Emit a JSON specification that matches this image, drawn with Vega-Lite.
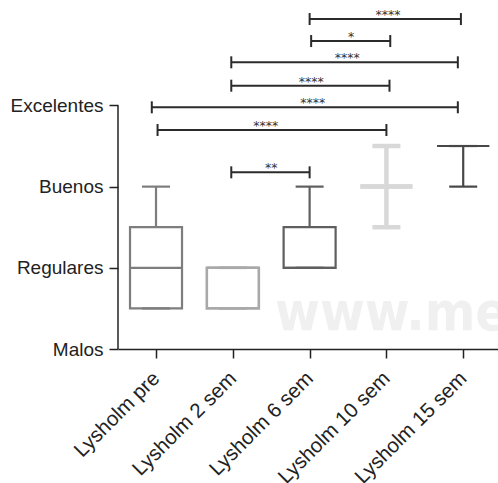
{
  "$schema": "https://vega.github.io/schema/vega-lite/v6.json",
  "autosize": "none",
  "width": 380,
  "height": 341,
  "padding": {"left": 118, "top": 8, "right": 0, "bottom": 134},
  "background": "white",
  "config": {
    "view": {"stroke": null},
    "axis": {
      "grid": false,
      "title": null,
      "domainColor": "#222222",
      "domainWidth": 1.5,
      "tickColor": "#222222",
      "tickWidth": 1.5,
      "tickSize": 9,
      "labelFont": "Liberation Sans",
      "labelFontSize": 19,
      "labelColor": "#222222"
    }
  },
  "datasets": {
    "boxes": [
      {"g": 1, "min": 0.5, "q1": 0.5, "med": 1, "q3": 1.5, "max": 2},
      {"g": 2, "min": 0.5, "q1": 0.5, "med": 1, "q3": 1, "max": 1},
      {"g": 3, "min": 1, "q1": 1, "med": 1, "q3": 1.5, "max": 2},
      {"g": 4, "min": 1.5, "q1": 2, "med": 2, "q3": 2, "max": 2.5},
      {"g": 5, "min": 2, "q1": 2.5, "med": 2.5, "q3": 2.5, "max": 2.5}
    ],
    "brackets": [
      {"a": 3.0, "b": 4.97, "y": 4.064, "mid": 4.02, "s": "****"},
      {"a": 3.02, "b": 4.05, "y": 3.793, "mid": 3.54, "s": "*"},
      {"a": 1.98, "b": 4.93, "y": 3.531, "mid": 3.49, "s": "****"},
      {"a": 1.98, "b": 4.04, "y": 3.243, "mid": 3.02, "s": "****"},
      {"a": 0.945, "b": 4.93, "y": 2.977, "mid": 3.04, "s": "****"},
      {"a": 1.02, "b": 4.0, "y": 2.697, "mid": 2.43, "s": "****"},
      {"a": 1.98, "b": 3.0, "y": 2.176, "mid": 2.5, "s": "**"}
    ]
  },
  "layer": [
    {
      "data": {"values": [{}]},
      "mark": {"type": "text", "font": "Liberation Sans Narrow, DejaVu Sans Condensed, Liberation Sans, sans-serif", "fontWeight": "bold", "fontSize": 54, "color": "#f0f0f0", "align": "left", "baseline": "alphabetic"},
      "encoding": {
        "x": {
          "datum": 2.55, "type": "quantitative",
          "scale": {"domain": [0.505, 5.453], "nice": false, "zero": false, "padding": 0},
          "axis": {
            "values": [1, 2, 3, 4, 5],
            "labelAngle": -45,
            "labelAlign": "right",
            "labelBaseline": "middle",
            "labelPadding": 17,
            "labelFontSize": 20.5,
            "labelOverlap": false,
            "labelBound": false,
            "labelFlush": false,
            "labelExpr": "['Lysholm pre', 'Lysholm 2 sem', 'Lysholm 6 sem', 'Lysholm 10 sem', 'Lysholm 15 sem'][datum.value - 1]"
          }
        },
        "y": {
          "datum": 0.23, "type": "quantitative",
          "scale": {"domain": [0, 4.2], "nice": false, "zero": false, "padding": 0},
          "axis": {
            "values": [0, 1, 2, 3],
            "domain": false,
            "labelPadding": 6,
            "labelOverlap": false,
            "labelExpr": "['Malos', 'Regulares', 'Buenos', 'Excelentes'][datum.value]"
          }
        },
        "text": {"value": "www.medigraphic.org.mx"}
      }
    },
    {
      "data": {"name": "boxes"},
      "mark": {"type": "rule"},
      "encoding": {
        "x": {"field": "g", "type": "quantitative"},
        "y": {"field": "q3", "type": "quantitative"},
        "y2": {"field": "max"},
        "color": {"field": "g", "type": "nominal", "legend": null,
          "scale": {"domain": [1, 2, 3, 4, 5], "range": ["#7d7d7d", "#a9a9a9", "#5f5f5f", "#d8d8d8", "#474747"]}},
        "strokeWidth": {"condition": [{"test": "datum.g == 4", "value": 4.5}, {"test": "datum.g == 2", "value": 2.6}], "value": 2.2}
      }
    },
    {
      "data": {"name": "boxes"},
      "mark": {"type": "rule"},
      "encoding": {
        "x": {"field": "g", "type": "quantitative"},
        "y": {"field": "min", "type": "quantitative"},
        "y2": {"field": "q1"},
        "color": {"field": "g", "type": "nominal", "legend": null},
        "strokeWidth": {"condition": [{"test": "datum.g == 4", "value": 4.5}, {"test": "datum.g == 2", "value": 2.6}], "value": 2.2}
      }
    },
    {
      "data": {"name": "boxes"},
      "mark": {"type": "rule", "xOffset": -14, "x2Offset": 14},
      "encoding": {
        "x": {"field": "g", "type": "quantitative"},
        "x2": {"field": "g"},
        "y": {"field": "max", "type": "quantitative"},
        "color": {"field": "g", "type": "nominal", "legend": null},
        "strokeWidth": {"condition": [{"test": "datum.g == 4", "value": 4.5}, {"test": "datum.g == 2", "value": 2.6}], "value": 2.2}
      }
    },
    {
      "data": {"name": "boxes"},
      "mark": {"type": "rule", "xOffset": -14, "x2Offset": 14},
      "encoding": {
        "x": {"field": "g", "type": "quantitative"},
        "x2": {"field": "g"},
        "y": {"field": "min", "type": "quantitative"},
        "color": {"field": "g", "type": "nominal", "legend": null},
        "strokeWidth": {"condition": [{"test": "datum.g == 4", "value": 4.5}, {"test": "datum.g == 2", "value": 2.6}], "value": 2.2}
      }
    },
    {
      "data": {"name": "boxes"},
      "mark": {"type": "bar", "size": 52, "filled": false, "orient": "vertical"},
      "encoding": {
        "x": {"field": "g", "type": "quantitative"},
        "y": {"field": "q1", "type": "quantitative"},
        "y2": {"field": "q3"},
        "stroke": {"field": "g", "type": "nominal", "legend": null,
          "scale": {"domain": [1, 2, 3, 4, 5], "range": ["#7d7d7d", "#a9a9a9", "#5f5f5f", "#d8d8d8", "#474747"]}},
        "strokeWidth": {"condition": [{"test": "datum.g == 4", "value": 4.5}, {"test": "datum.g == 2", "value": 2.6}], "value": 2.2}
      }
    },
    {
      "data": {"name": "boxes"},
      "mark": {"type": "rule", "xOffset": -26, "x2Offset": 26},
      "encoding": {
        "x": {"field": "g", "type": "quantitative"},
        "x2": {"field": "g"},
        "y": {"field": "med", "type": "quantitative"},
        "color": {"field": "g", "type": "nominal", "legend": null},
        "strokeWidth": {"condition": [{"test": "datum.g == 4", "value": 4.5}, {"test": "datum.g == 2", "value": 2.6}], "value": 2.2}
      }
    },
    {
      "data": {"values": [{}]},
      "mark": {"type": "rule", "color": "#222222", "strokeWidth": 1.5},
      "encoding": {
        "x": {"datum": 0.505, "type": "quantitative"},
        "y": {"datum": 0, "type": "quantitative"},
        "y2": {"datum": 3}
      }
    },
    {
      "data": {"name": "brackets"},
      "mark": {"type": "rule", "color": "#2b2b2b", "strokeWidth": 2},
      "encoding": {
        "x": {"field": "a", "type": "quantitative"},
        "x2": {"field": "b"},
        "y": {"field": "y", "type": "quantitative"}
      }
    },
    {
      "data": {"name": "brackets"},
      "mark": {"type": "tick", "orient": "vertical", "size": 12, "thickness": 2, "color": "#2b2b2b", "opacity": 1},
      "encoding": {
        "x": {"field": "a", "type": "quantitative"},
        "y": {"field": "y", "type": "quantitative"}
      }
    },
    {
      "data": {"name": "brackets"},
      "mark": {"type": "tick", "orient": "vertical", "size": 12, "thickness": 2, "color": "#2b2b2b", "opacity": 1},
      "encoding": {
        "x": {"field": "b", "type": "quantitative"},
        "y": {"field": "y", "type": "quantitative"}
      }
    },
    {
      "data": {"name": "brackets"},
      "mark": {"type": "text", "font": "DejaVu Sans", "fontSize": 12.5, "color": "#333333", "baseline": "alphabetic", "align": "center"},
      "encoding": {
        "x": {"field": "mid", "type": "quantitative"},
        "y": {"field": "y", "type": "quantitative"},
        "text": {"field": "s"}
      }
    }
  ]
}
